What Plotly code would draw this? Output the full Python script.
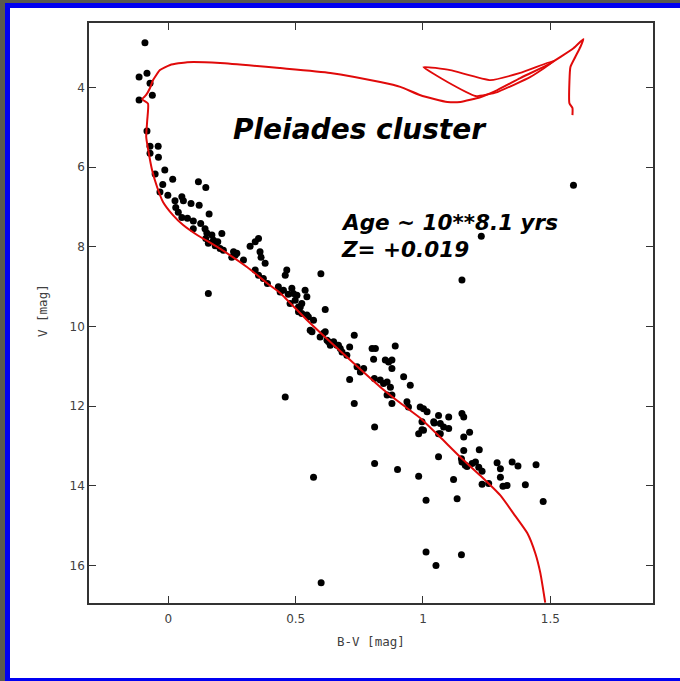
import plotly.graph_objects as go

# ---- Pleiades photometry: (B-V, V) pairs, grouped along the sequence ----
turnoff_stars = [
    (-0.092, 2.87), (-0.115, 3.73), (-0.084, 3.64), (-0.072, 3.89), (-0.115, 4.31),
    (-0.063, 4.19), (-0.084, 5.09), (-0.072, 5.47), (-0.040, 5.47),
    (-0.072, 5.65), (-0.039, 5.75), (-0.052, 6.17), (-0.014, 6.07), (-0.022, 6.43),
    (0.017, 6.30), (-0.033, 6.62), (-0.002, 6.70), (0.026, 6.84), (0.029, 7.01),
    (0.039, 7.13),
]

upper_ms_stars = [
    (0.118, 6.36), (0.147, 6.51), (0.053, 6.74), (0.059, 6.84), (0.089, 6.91),
    (0.121, 6.95), (0.160, 7.17), (0.053, 7.26), (0.075, 7.28), (0.098, 7.35),
    (0.127, 7.41), (0.098, 7.54), (0.144, 7.54), (0.151, 7.65), (0.147, 7.79),
    (0.171, 7.70), (0.210, 7.66), (0.177, 7.83), (0.194, 7.87), (0.203, 8.04),
    (0.216, 8.08), (0.256, 8.12), (0.262, 8.21), (0.269, 8.16), (0.295, 8.33),
    (0.321, 7.98), (0.341, 7.87), (0.354, 7.79), (0.360, 8.12), (0.364, 8.26),
    (0.380, 8.41), (0.341, 8.58), (0.354, 8.71), (0.373, 8.79), (0.389, 8.92),
    (0.432, 9.00), (0.465, 8.58), (0.459, 8.71), (0.599, 8.67), (0.157, 9.17),
    (0.157, 7.91), (0.184, 7.97), (0.249, 8.26),
]

middle_ms_stars = [
    (0.452, 9.09), (0.491, 9.17), (0.537, 9.09), (0.544, 9.25), (0.478, 9.42),
    (0.511, 9.51), (0.524, 9.42), (0.511, 9.63), (0.544, 9.71), (0.570, 9.84),
    (0.557, 10.09), (0.616, 9.57), (0.596, 10.26), (0.616, 10.13), (0.623, 10.34),
    (0.636, 10.47), (0.649, 10.38), (0.668, 10.47), (0.682, 10.64), (0.712, 10.51),
    (0.730, 10.22), (0.701, 10.72), (0.741, 11.01), (0.767, 11.05), (0.712, 11.33),
    (0.754, 11.14), (0.800, 10.55), (0.806, 10.82), (0.813, 10.55), (0.891, 10.49),
    (0.852, 10.84), (0.865, 10.89), (0.878, 10.84), (0.878, 11.05), (0.809, 11.30),
    (0.832, 11.34), (0.845, 11.43), (0.859, 11.39), (0.872, 11.52), (0.878, 11.72),
    (0.924, 11.26), (0.950, 11.47), (0.730, 11.93), (0.459, 11.77), (0.937, 11.89),
    (0.471, 9.19), (0.505, 9.21), (0.498, 9.34), (0.518, 9.51), (0.524, 9.67),
    (0.550, 9.76), (0.564, 10.13), (0.609, 10.17), (0.629, 10.38), (0.662, 10.47),
    (0.675, 10.55), (0.439, 9.13), (0.485, 9.04), (0.859, 11.72), (0.878, 11.93),
]

lower_ms_stars = [
    (0.943, 12.02), (0.989, 12.02), (1.002, 12.06), (1.016, 12.14), (0.996, 12.39),
    (1.042, 12.39), (1.061, 12.23), (1.068, 12.43), (1.081, 12.52), (1.101, 12.27),
    (1.101, 12.56), (1.153, 12.18), (1.160, 12.27), (0.983, 12.69), (1.002, 12.60),
    (0.810, 12.52), (1.068, 12.69), (1.160, 12.77), (1.183, 12.65), (1.061, 13.27),
    (1.160, 13.11), (1.206, 13.40), (1.219, 13.53), (1.153, 13.40), (1.166, 13.48),
    (0.810, 13.44), (0.900, 13.59), (0.983, 13.76), (0.570, 13.78), (1.120, 13.84),
    (1.221, 13.09), (1.044, 12.42), (0.996, 12.59), (1.061, 12.69), (1.173, 13.51),
    (1.193, 13.44), (1.151, 13.32),
    (1.232, 13.63), (1.291, 13.42), (1.304, 13.57), (1.350, 13.40), (1.373, 13.50),
    (1.444, 13.47), (1.304, 13.78), (1.232, 13.96), (1.258, 13.94), (1.314, 14.01),
    (1.330, 13.99), (1.402, 13.97), (1.472, 14.39), (1.012, 14.36), (1.134, 14.32),
]

field_stars = [
    (1.153, 8.83), (1.229, 7.73), (1.591, 6.45),
    (1.012, 15.66), (1.151, 15.73), (1.051, 16.00), (0.600, 16.43),
]

# ---- Isochrone, log(age)=8.1, Z=0.019 ----
iso_bv = [1.480, 1.461, 1.441, 1.410, 1.355, 1.304, 1.225, 1.147, 1.068, 0.990,
          0.911, 0.833, 0.702, 0.545, 0.440, 0.388, 0.310, 0.192, 0.113, 0.058,
          0.018, -0.021, -0.044, -0.064, -0.079, -0.087, -0.083, -0.080, -0.103,
          -0.088, -0.072, -0.060, -0.033, 0.007, 0.074, 0.203, 0.439, 0.636,
          0.832, 0.911, 0.990, 1.096, 1.147, 1.225, 1.292, 1.382, 1.489, 1.591,
          1.630, 1.618, 1.598, 1.579, 1.575, 1.575, 1.587, 1.587]
iso_v = [16.93, 16.19, 15.69, 15.19, 14.69, 14.24, 13.74, 13.28, 12.78, 12.30,
         11.92, 11.52, 10.77, 9.84, 9.16, 8.91, 8.51, 8.00, 7.70, 7.45,
         7.20, 6.87, 6.50, 6.07, 5.57, 5.24, 4.82, 4.40, 4.29,
         4.19, 4.01, 3.81, 3.56, 3.43, 3.36, 3.38, 3.51, 3.63,
         3.86, 3.98, 4.19, 4.36, 4.36, 4.24, 4.06, 3.76, 3.43, 3.01,
         2.78, 2.98, 3.23, 3.48, 3.86, 4.39, 4.51, 4.69]

# helium-burning loop
loop_bv = [1.520, 1.382, 1.265, 1.107, 1.001, 1.096, 1.206, 1.292, 1.422, 1.520]
loop_v = [3.31, 3.63, 3.81, 3.56, 3.48, 3.86, 4.21, 4.11, 3.73, 3.31]

x_ticks = [0, 0.5, 1, 1.5]
x_ticktext = ["0", "0.5", "1", "1.5"]
y_ticks = [4, 6, 8, 10, 12, 14, 16]

stars = turnoff_stars + upper_ms_stars + middle_ms_stars + lower_ms_stars + field_stars
bv = [s[0] for s in stars]
vmag = [s[1] for s in stars]

# ---- page geometry ----
PW, PH = 680, 681
ML, MR, MT, MB = 89, 27, 23, 78
PLOT_W = PW - ML - MR
PLOT_H = PH - MT - MB


def px_x(px):
    return (px - ML) / PLOT_W


def px_y(py):
    return (PH - MB - py) / PLOT_H


RED = "#e00a0a"
INK = "#333333"
LABEL = "#404040"
MONO = "DejaVu Sans Mono, monospace"

fig = go.Figure()

fig.add_trace(go.Scatter(
    x=bv, y=vmag, mode="markers",
    marker=dict(color="black", size=7, line=dict(width=0)),
    hoverinfo="skip", showlegend=False,
))
fig.add_trace(go.Scatter(
    x=iso_bv, y=iso_v, mode="lines",
    line=dict(color=RED, width=2, shape="spline", smoothing=0.5),
    hoverinfo="skip", showlegend=False,
))
fig.add_trace(go.Scatter(
    x=loop_bv, y=loop_v, mode="lines",
    line=dict(color=RED, width=1.8, shape="spline", smoothing=0.4),
    hoverinfo="skip", showlegend=False,
))

axis_common = dict(
    showgrid=False, zeroline=False,
    showline=True, linecolor=INK, linewidth=1.5, mirror="ticks",
    ticks="inside", ticklen=7, tickwidth=1.2, tickcolor=INK,
    tickfont=dict(family="DejaVu Sans, sans-serif", size=12, color=LABEL),
)

fig.update_xaxes(range=[-0.3117, 1.9033], tickvals=x_ticks, ticktext=x_ticktext,
                 ticklabelstandoff=4, **axis_common)
fig.update_yaxes(range=[16.94, 2.377], tickvals=y_ticks, **axis_common)

# window frame around the figure
shapes = [
    dict(type="rect", xref="paper", yref="paper", layer="below",
         x0=px_x(-20), x1=px_x(PW + 20), y0=px_y(3), y1=px_y(-20),
         fillcolor="#5a5a4f", line=dict(width=0)),
    dict(type="rect", xref="paper", yref="paper", layer="below",
         x0=px_x(-20), x1=px_x(5), y0=px_y(PH + 20), y1=px_y(-20),
         fillcolor="#5a5a4f", line=dict(width=0)),
    dict(type="rect", xref="paper", yref="paper", layer="below",
         x0=px_x(10), x1=px_x(PW + 20), y0=px_y(678), y1=px_y(8),
         fillcolor="white", line=dict(width=0)),
]

annotations = [
    dict(text="<b><i>Pleiades cluster</i></b>", x=0.752, y=5.05, xref="x", yref="y",
         xanchor="center", yanchor="middle", showarrow=False,
         font=dict(family="DejaVu Sans", size=28, color="black")),
    dict(text="<b><i>Age ~ 10**8.1 yrs</i></b>", x=0.670, y=7.39, xref="x", yref="y",
         xanchor="left", yanchor="middle", showarrow=False,
         font=dict(family="DejaVu Sans", size=21.5, color="black")),
    dict(text="<b><i>Z= +0.019</i></b>", x=0.670, y=8.06, xref="x", yref="y",
         xanchor="left", yanchor="middle", showarrow=False,
         font=dict(family="DejaVu Sans", size=21.5, color="black")),
    dict(text="B-V [mag]", x=0.5, y=px_y(641.5), xref="paper", yref="paper",
         xanchor="center", yanchor="middle", showarrow=False,
         font=dict(family=MONO, size=12.5, color=LABEL)),
    dict(text="V [mag]", x=px_x(42), y=px_y(311), xref="paper", yref="paper",
         xanchor="center", yanchor="middle", textangle=-90, showarrow=False,
         font=dict(family=MONO, size=12.5, color=LABEL)),
]

fig.update_layout(
    width=PW, height=PH,
    margin=dict(l=ML, r=MR, t=MT, b=MB, pad=0),
    paper_bgcolor="#0000f2", plot_bgcolor="white",
    shapes=shapes, annotations=annotations,
    showlegend=False,
)

fig.write_html("out.html", config={"displayModeBar": False})
